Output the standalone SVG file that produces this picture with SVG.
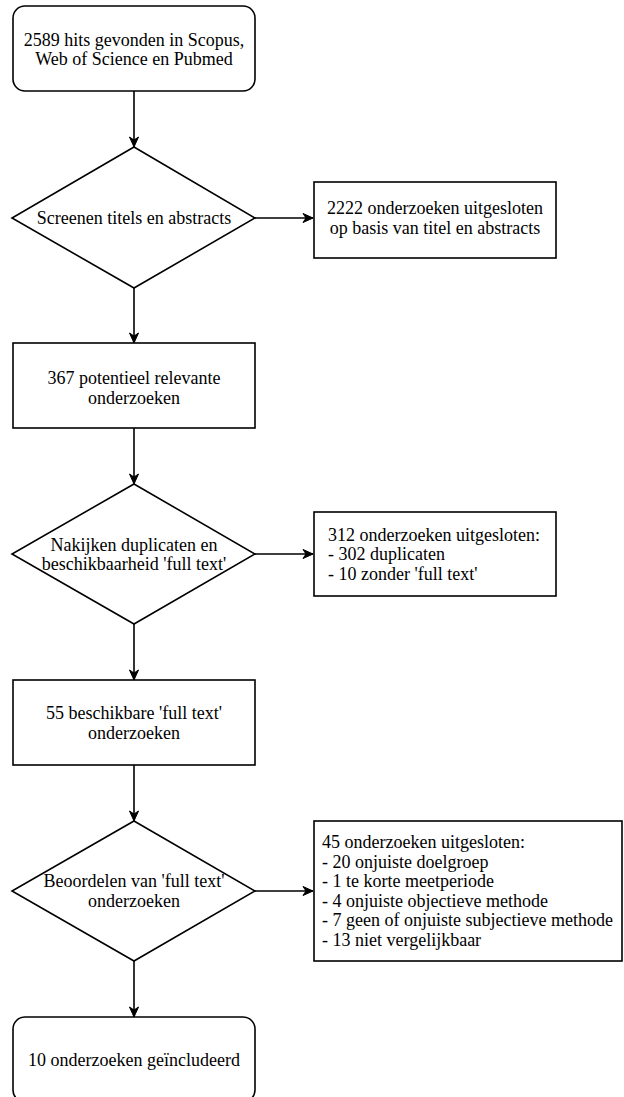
<svg xmlns="http://www.w3.org/2000/svg" width="624" height="1097" viewBox="0 0 624 1097" font-family="Liberation Serif, serif" font-size="18">
<defs>
<style>
.n{fill:#fff;stroke:#000;stroke-width:1.6}
text{font-family:"Liberation Serif",serif;font-size:18px;fill:#000}
.c{text-anchor:middle}
.e{fill:none;stroke:#000;stroke-width:1.6}
</style>
<marker id="a" viewBox="0 0 12 12" refX="11" refY="6" markerWidth="12" markerHeight="12" markerUnits="userSpaceOnUse" orient="auto">
<path d="M1,1.5 L11,6 L1,10.5 L4,6 Z" fill="#000" stroke="#000" stroke-width="1"/>
</marker>
</defs>
<rect width="624" height="1097" fill="#fff"/>
<g id="connectors">
<path class="e" d="M134,91 V147" marker-end="url(#a)"/>
<path class="e" d="M255,218 H313" marker-end="url(#a)"/>
<path class="e" d="M134,288 V343" marker-end="url(#a)"/>
<path class="e" d="M134,428 V484" marker-end="url(#a)"/>
<path class="e" d="M255,554 H313" marker-end="url(#a)"/>
<path class="e" d="M134,624 V680" marker-end="url(#a)"/>
<path class="e" d="M134,765 V821" marker-end="url(#a)"/>
<path class="e" d="M255,891 H313" marker-end="url(#a)"/>
<path class="e" d="M134,961 V1017" marker-end="url(#a)"/>
</g>
<g id="start">
<rect class="n" x="13" y="6" width="242" height="85" rx="12"/>
<text class="c" x="134" y="46" font-family="Liberation Serif, serif">2589 hits gevonden in Scopus,</text>
<text class="c" x="134" y="65" font-family="Liberation Serif, serif">Web of Science en Pubmed</text>
</g>
<g id="screen">
<polygon class="n" points="134,147 255,218 134,288 12,218"/>
<text class="c" x="134" y="224" font-family="Liberation Serif, serif">Screenen titels en abstracts</text>
</g>
<g id="excl1">
<rect class="n" x="314" y="182" width="242" height="76"/>
<text class="c" x="435" y="214" font-family="Liberation Serif, serif">2222 onderzoeken uitgesloten</text>
<text class="c" x="435" y="234" font-family="Liberation Serif, serif">op basis van titel en abstracts</text>
</g>
<g id="relevant">
<rect class="n" x="13" y="343" width="242" height="85"/>
<text class="c" x="134" y="384" font-family="Liberation Serif, serif">367 potentieel relevante</text>
<text class="c" x="134" y="404" font-family="Liberation Serif, serif">onderzoeken</text>
</g>
<g id="dup">
<polygon class="n" points="134,484 255,554 134,624 12,554"/>
<text class="c" x="134" y="551" font-family="Liberation Serif, serif">Nakijken duplicaten en</text>
<text class="c" x="134" y="570" font-family="Liberation Serif, serif">beschikbaarheid 'full text'</text>
</g>
<g id="excl2">
<rect class="n" x="314" y="512" width="242" height="84"/>
<text x="328" y="541" font-family="Liberation Serif, serif">312 onderzoeken uitgesloten:</text>
<text x="328" y="560" font-family="Liberation Serif, serif">- 302 duplicaten</text>
<text x="328" y="580" font-family="Liberation Serif, serif">- 10 zonder 'full text'</text>
</g>
<g id="fulltext">
<rect class="n" x="13" y="680" width="242" height="85"/>
<text class="c" x="134" y="719" font-family="Liberation Serif, serif">55 beschikbare 'full text'</text>
<text class="c" x="134" y="739" font-family="Liberation Serif, serif">onderzoeken</text>
</g>
<g id="assess">
<polygon class="n" points="134,821 255,891 134,961 12,891"/>
<text class="c" x="134" y="887" font-family="Liberation Serif, serif">Beoordelen van 'full text'</text>
<text class="c" x="134" y="907" font-family="Liberation Serif, serif">onderzoeken</text>
</g>
<g id="excl3">
<rect class="n" x="314" y="821" width="308" height="140"/>
<text x="322" y="848" font-family="Liberation Serif, serif">45 onderzoeken uitgesloten:</text>
<text x="322" y="867.5" font-family="Liberation Serif, serif">- 20 onjuiste doelgroep</text>
<text x="322" y="887" font-family="Liberation Serif, serif">- 1 te korte meetperiode</text>
<text x="322" y="906.5" font-family="Liberation Serif, serif">- 4 onjuiste objectieve methode</text>
<text x="322" y="926" font-family="Liberation Serif, serif">- 7 geen of onjuiste subjectieve methode</text>
<text x="322" y="945.5" font-family="Liberation Serif, serif">- 13 niet vergelijkbaar</text>
</g>
<g id="included">
<rect class="n" x="13" y="1017" width="242" height="85" rx="12"/>
<text class="c" x="134" y="1066" font-family="Liberation Serif, serif">10 onderzoeken geïncludeerd</text>
</g>
</svg>
